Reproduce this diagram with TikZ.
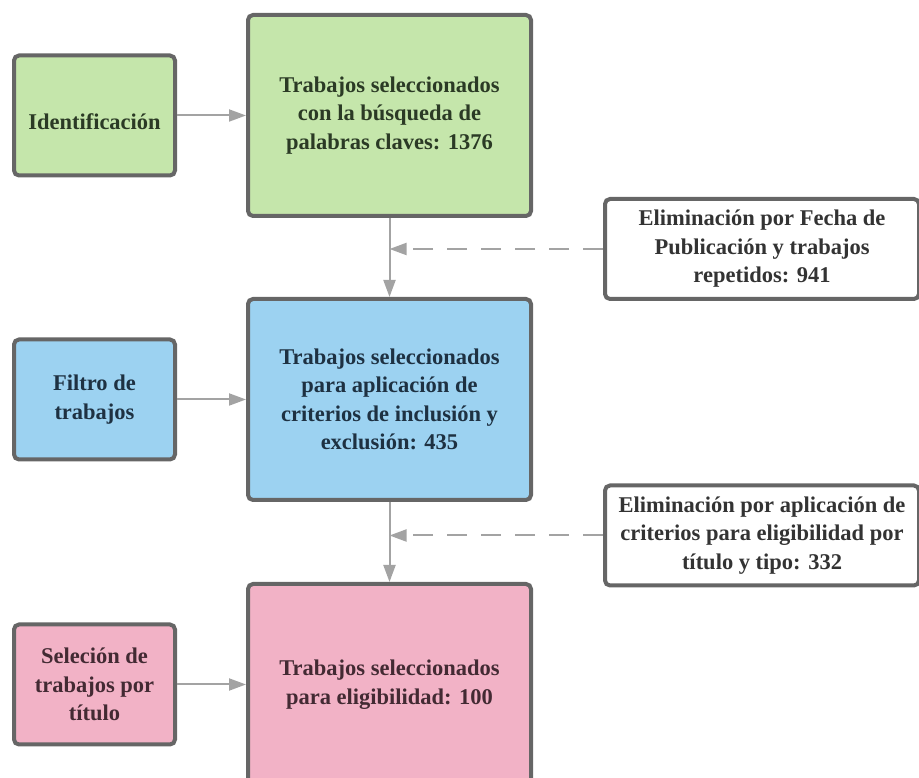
\documentclass[tikz,border=0pt]{standalone}
\usepackage{fontspec}
\setmainfont{Liberation Serif}[BoldFont={Liberation Serif Bold}]
\usetikzlibrary{arrows.meta,positioning}

\definecolor{verde}{HTML}{C5E6AB}
\definecolor{azul}{HTML}{9CD2F1}
\definecolor{rosa}{HTML}{F2B2C6}
\definecolor{borde}{HTML}{666666}
\definecolor{gris}{HTML}{A3A3A3}
\definecolor{txtverde}{HTML}{2B3A25}
\definecolor{txtazul}{HTML}{1E3142}
\definecolor{txtrosa}{HTML}{432A33}
\definecolor{txtgris}{HTML}{333333}

\begin{document}
\begin{tikzpicture}[x=1pt,y=1pt,node distance=79pt,
    caja/.style={draw=borde, line width=4pt, rounded corners=5pt, align=center,
      font=\bfseries\fontsize{22.5}{28.5}\selectfont,
      execute at begin node={\rule{0pt}{28pt}}},
    grande/.style={caja, minimum width=283pt, minimum height=201pt},
    lateral/.style={caja, minimum width=161pt, minimum height=120pt},
    elim/.style={caja, fill=white, text=txtgris, minimum width=314pt, minimum height=100pt},
    flecha/.style={draw=gris, line width=2pt, -{Triangle[length=17pt,width=12pt]}},
    discontinua/.style={flecha, dash pattern=on 20pt off 14pt}]
    \useasboundingbox (0,0) rectangle (919,778);
    % columna central
    \node[grande, fill=verde, text=txtverde] (b1) at (389.5,662.5) {Trabajos seleccionados\\con la búsqueda de\\palabras claves: 1376};
    \node[grande, fill=azul, text=txtazul] (b2) [below=of b1] {Trabajos seleccionados\\para aplicación de\\criterios de inclusión y\\exclusión: 435};
    \node[grande, fill=rosa, text=txtrosa] (b3) [below=80pt of b2] {Trabajos seleccionados\\para eligibilidad: 100};
    % etapas
    \node[lateral, fill=verde, text=txtverde] (ident) [left=69pt of b1] {Identificación};
    \node[lateral, fill=azul, text=txtazul] (filtro) [left=69pt of b2] {Filtro de\\trabajos};
    \node[lateral, fill=rosa, text=txtrosa] (selec) [left=69pt of b3] {Seleción de\\trabajos por\\título};
    % eliminados
    \node[elim] (e1) at (762,529) {Eliminación por Fecha de\\Publicación y trabajos\\repetidos: 941};
    \node[elim] (e2) at (762,242.5) {Eliminación por aplicación de\\criterios para eligibilidad por\\título y tipo: 332};
    \draw[flecha] (ident) -- (b1);
    \draw[flecha] (filtro) -- (b2);
    \draw[flecha] (selec) -- (b3);
    \draw[flecha] (b1) -- (b2);
    \draw[flecha] (b2) -- (b3);
    \draw[discontinua] (e1) -- (e1.west -| b1.south);
    \draw[discontinua] (e2) -- (e2.west -| b2.south);
\end{tikzpicture}
\end{document}
